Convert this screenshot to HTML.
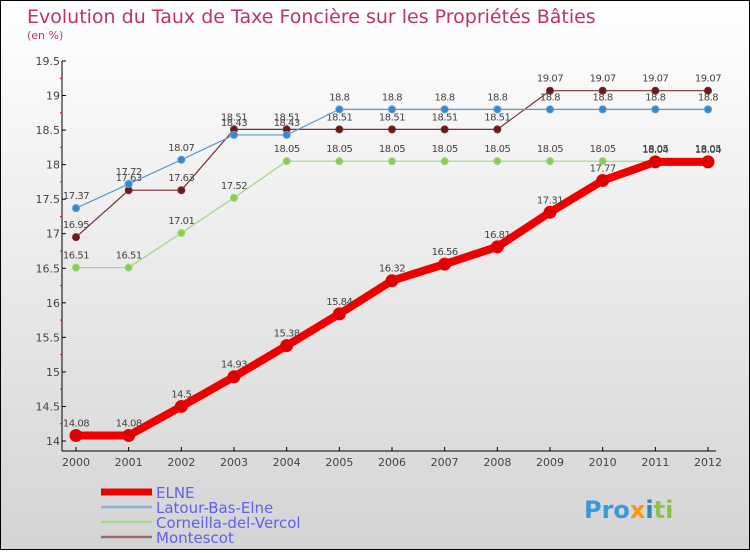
<!DOCTYPE html>
<html><head><meta charset="utf-8"><style>
body{margin:0;}
#c{width:748px;height:548px;border:1px solid #000;background:linear-gradient(#ffffff,#d4d4d4);position:relative;font-family:"DejaVu Sans","Liberation Sans",sans-serif;}
svg text{font-family:"DejaVu Sans","Liberation Sans",sans-serif;}
</style></head><body>
<div id="c">
<svg id="s" width="748" height="548">
<text x="26" y="22" font-size="19" fill="#c0306a">Evolution du Taux de Taxe Foncière sur les Propriétés Bâties</text>
<text x="26" y="38" font-size="11" fill="#c0306a">(en %)</text>
<g id="axes"></g><g id="series"></g><g id="legend"></g>
<text x="583" y="517" font-size="24" font-weight="bold" fill="#3a9ad9">Pro<tspan fill="#f39c12">x</tspan><tspan fill="#2e86c1">i</tspan><tspan fill="#8bc34a">ti</tspan></text>
</svg></div>
<script>
const years=[2000,2001,2002,2003,2004,2005,2006,2007,2008,2009,2010,2011,2012];
const yTicks=[14,14.5,15,15.5,16,16.5,17,17.5,18,18.5,19,19.5];
const elne=[14.08,14.08,14.5,14.93,15.38,15.84,16.32,16.56,16.81,17.31,17.77,18.04,18.04];
const latour=[17.37,17.72,18.07,18.43,18.43,18.8,18.8,18.8,18.8,18.8,18.8,18.8,18.8];
const corneilla=[16.51,16.51,17.01,17.52,18.05,18.05,18.05,18.05,18.05,18.05,18.05,18.05,18.05];
const montescot=[16.95,17.63,17.63,18.51,18.51,18.51,18.51,18.51,18.51,19.07,19.07,19.07,19.07];
const NS="http://www.w3.org/2000/svg";
function X(i){return 75+i*(632/12);}
function Y(v){return 440-(v-14)*(380/5.5);}
function mk(t,a,p){const e=document.createElementNS(NS,t);for(const k in a)e.setAttribute(k,a[k]);p.appendChild(e);return e;}
const ax=document.getElementById('axes');
let l=mk('line',{x1:61,y1:60,x2:61,y2:450,stroke:'#000'},ax);


l=mk('line',{x1:61,y1:450,x2:715,y2:450,stroke:'#000'},ax);


yTicks.forEach((v,i)=>{
 mk('line',{x1:61,y1:Y(v),x2:65,y2:Y(v),stroke:'#000'},ax);
 if(i<yTicks.length-1)mk('line',{x1:59,y1:Y(v+0.25),x2:61,y2:Y(v+0.25),stroke:'#e00'},ax);
 const t=mk('text',{x:59,y:Y(v)+4,'font-size':11,'text-anchor':'end',fill:'#444'},ax);t.textContent=String(v);
 
 
});
years.forEach((y,i)=>{
 mk('line',{x1:X(i),y1:446,x2:X(i),y2:450,stroke:'#000'},ax);
 const t=mk('text',{x:X(i),y:465,'font-size':11,'text-anchor':'middle',fill:'#444'},ax);t.textContent=y;
 
 
});
const sg=document.getElementById('series');
function draw(vals,color,w,r,dot,name){
 const g=mk('g',{},sg);
 
 
 mk('polyline',{points:vals.map((v,i)=>X(i)+','+Y(v)).join(' '),fill:'none',stroke:color,'stroke-width':w,'stroke-linejoin':'round'},g);
 vals.forEach((v,i)=>{
  const c=mk('circle',{cx:X(i),cy:Y(v),r:r,fill:dot,stroke:color,'stroke-width':1},g);
  
  
  const t=mk('text',{x:X(i),y:Y(v)-9,'font-size':10,'text-anchor':'middle',fill:'#444','letter-spacing':'-0.5'},g);t.textContent=String(v);
  
  
 });
}
draw(montescot,'#7a3030',1.2,3.5,'#6a1a1a','montescot');
draw(corneilla,'#9ed87a',1.2,3.5,'#88cc55','corneilla');
draw(latour,'#5a9ad0',1.2,3.5,'#3a88cc','latour');
draw(elne,'#ee0000',8,6,'#dd0000','elne');
const lg=document.getElementById('legend');
const names=['ELNE','Latour-Bas-Elne','Corneilla-del-Vercol','Montescot'];
const cols=['#ee0000','#8ab4d4','#a8d890','#9a6a6a'];
names.forEach((n,i)=>{
 const y=491+i*15;
 const g=mk('g',{},lg);
 
 
 mk('line',{x1:100,y1:y,x2:151,y2:y,stroke:cols[i],'stroke-width':i==0?7:2.5},g);
 const t=mk('text',{x:155,y:y+6,'font-size':15,fill:'#6060f0'},g);t.textContent=n;
});
</script>
</body></html>
